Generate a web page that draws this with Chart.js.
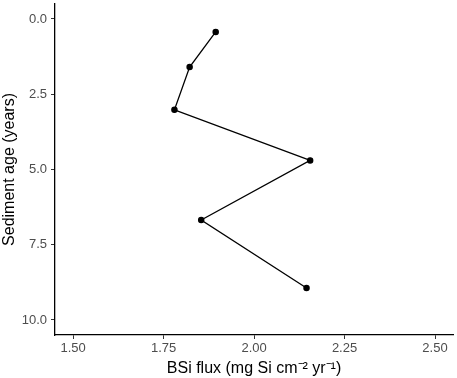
<!DOCTYPE html>
<html>
<head>
<meta charset="utf-8">
<script src="https://cdn.jsdelivr.net/npm/chart.js@4"></script>
<style>
  html, body { margin: 0; padding: 0; background: #fff; }
  #wrap { width: 457px; height: 378px; }
</style>
</head>
<body>
<div id="wrap"><canvas id="fluxChart" width="457" height="378"></canvas></div>
<script>
// data
const bsiFlux = [1.894, 1.822, 1.780, 2.155, 1.854, 2.145];
const sedimentAge = [0.43, 1.60, 3.02, 4.70, 6.68, 8.94];
const xTicks = [1.50, 1.75, 2.00, 2.25, 2.50];
const yTicks = [0.0, 2.5, 5.0, 7.5, 10.0];

const font = "'Liberation Sans', Arial, sans-serif";
const tickGrey = '#4d4d4d';

const points = bsiFlux.map((x, i) => ({ x: x, y: sedimentAge[i] }));

const config = {
  type: 'scatter',
  data: {
    datasets: [{
      data: points,
      showLine: true,
      borderColor: '#000',
      backgroundColor: '#000',
      borderWidth: 1.3,
      pointRadius: 2.6,
      pointHoverRadius: 2.6,
      tension: 0
    }]
  },
  options: {
    responsive: false,
    animation: false,
    events: [],
    layout: { padding: { left: 0, top: 1, right: 2, bottom: 0 } },
    plugins: {
      legend: { display: false },
      tooltip: { enabled: false }
    },
    scales: {
      x: {
        type: 'linear',
        min: 1.45,
        max: 2.55,
        afterBuildTicks: (axis) => { axis.ticks = xTicks.map(v => ({ value: v })); },
        afterFit: (axis) => {
          axis.height = 43;
          axis.paddingLeft = 0;
          axis.paddingRight = 0;
        },
        ticks: {
          color: tickGrey,
          font: { family: font, size: 13 },
          padding: 2,
          callback: (v) => Number(v).toFixed(2)
        },
        grid: { display: true, drawOnChartArea: false, drawTicks: true, tickLength: 4, color: '#333', lineWidth: 1 },
        border: { display: true, color: '#000', width: 1.3 },
        title: {
          display: true,
          text: 'BSi flux (mg Si cm\u207B\u00B2 yr\u207B\u00B9)',
          color: '#000',
          font: { family: font, size: 16 },
          padding: { top: 1, bottom: 0 }
        }
      },
      y: {
        type: 'linear',
        reverse: true,
        min: -0.5,
        max: 10.5,
        afterBuildTicks: (axis) => { axis.ticks = yTicks.map(v => ({ value: v })); },
        afterFit: (axis) => {
          axis.width = 55;
          axis.paddingTop = 0;
          axis.paddingBottom = 0;
        },
        ticks: {
          color: tickGrey,
          font: { family: font, size: 13 },
          padding: 4,
          callback: (v) => Number(v).toFixed(1)
        },
        grid: { display: true, drawOnChartArea: false, drawTicks: true, tickLength: 4, color: '#333', lineWidth: 1 },
        border: { display: true, color: '#000', width: 1.3 },
        title: {
          display: true,
          text: 'Sediment age (years)',
          color: '#000',
          font: { family: font, size: 16 },
          padding: { top: 0, bottom: 0 }
        }
      }
    }
  }
};

new Chart(document.getElementById('fluxChart'), config);
</script>
</body>
</html>
